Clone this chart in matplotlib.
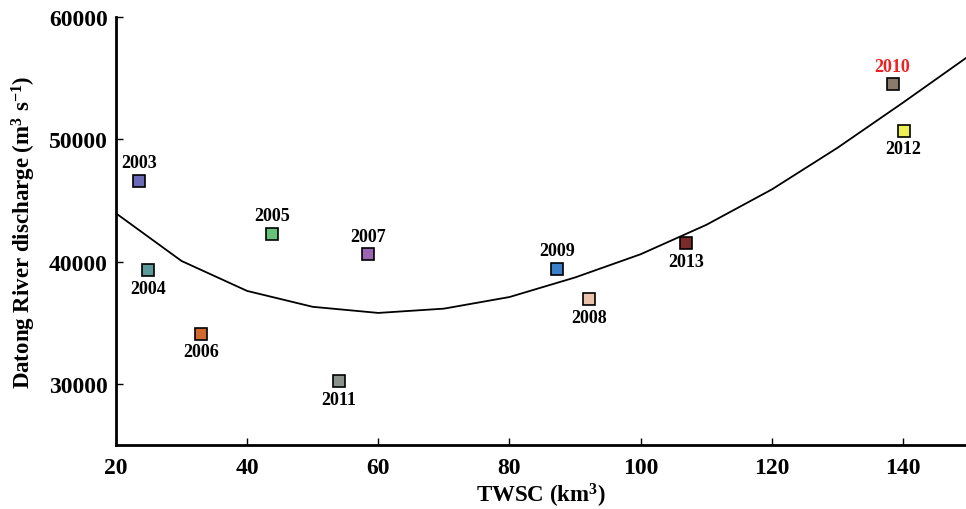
import matplotlib
matplotlib.use("Agg")
import matplotlib.pyplot as plt

plt.rcParams["font.family"] = "Liberation Serif"
plt.rcParams["font.weight"] = "bold"
plt.rcParams["mathtext.default"] = "regular"

years = ["2003", "2004", "2005", "2006", "2007", "2011", "2009", "2008", "2013", "2010", "2012"]
twsc = [23.5, 24.9, 43.8, 33.0, 58.4, 54.0, 87.2, 92.1, 106.9, 138.4, 140.1]
discharge = [46600, 39300, 42250, 34100, 40600, 30200, 39400, 36900, 41500, 54500, 50700]
colors = ["#6a6ab6", "#5c9a9a", "#66c27a", "#d06a30", "#9a66b4", "#8a908a",
          "#3a80c8", "#eac2aa", "#7a2a28", "#8a7a6c", "#eeee55"]
label_above = [True, False, True, False, True, False, True, False, False, True, False]
label_colors = ["black"] * 9 + ["#ee2222", "black"]

fit_x = [20, 30, 40, 50, 60, 70, 80, 90, 100, 110, 120, 130, 140, 150]
fit_y = [43950, 40050, 37600, 36300, 35800, 36150, 37100, 38700, 40600, 43000, 45900, 49300, 53000, 56800]

fig = plt.figure(figsize=(9.66, 5.1), dpi=100)
ax = fig.add_axes([0.120, 0.1255, 0.880, 0.8392])

ax.plot(fit_x, fit_y, color="black", lw=1.3, zorder=2)

for yr, x, y, c, up, lc in zip(years, twsc, discharge, colors, label_above, label_colors):
    ax.plot(x, y, marker="s", ms=8.5, mfc=c, mec="black", mew=1.2, ls="none", zorder=3)
    if up:
        ax.annotate(yr, (x, y), xytext=(0, 7), textcoords="offset points",
                    ha="center", va="bottom", fontsize=13, fontweight="bold", color=lc)
    else:
        ax.annotate(yr, (x, y), xytext=(0, -7), textcoords="offset points",
                    ha="center", va="top", fontsize=13, fontweight="bold", color=lc)

ax.set_xlim(20, 149.6)
ax.set_ylim(25000, 60000)
ax.set_xticks([20, 40, 60, 80, 100, 120, 140])
ax.set_yticks([30000, 40000, 50000, 60000])
ax.spines["top"].set_visible(False)
ax.spines["right"].set_visible(False)
ax.spines["left"].set_linewidth(2)
ax.spines["bottom"].set_linewidth(2)
ax.tick_params(direction="in", length=5, width=1, labelsize=17)
ax.tick_params(axis="x", pad=9)
ax.tick_params(axis="y", pad=6)
for lab in ax.get_xticklabels() + ax.get_yticklabels():
    lab.set_fontweight("bold")

ax.set_xlabel("TWSC (km$^3$)", fontsize=16.5, fontweight="bold", labelpad=2)
ax.set_ylabel("Datong River discharge (m$^3$ s$^{-1}$)", fontsize=16.5, fontweight="bold", labelpad=8)

fig.savefig("out.png", dpi=100)
